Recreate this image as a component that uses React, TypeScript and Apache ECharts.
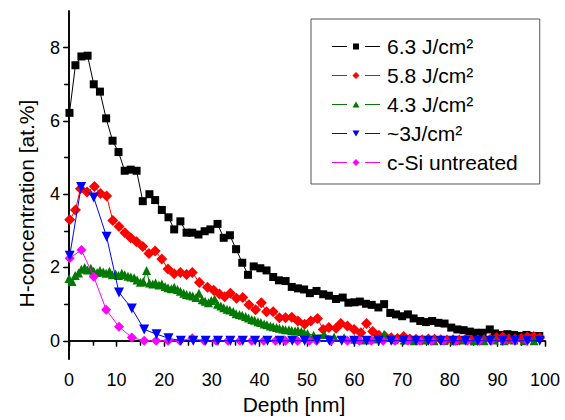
import React, { useEffect, useRef } from "react";
import * as echarts from "echarts";

const FONT = "'Liberation Sans', Arial, Helvetica, sans-serif";

const seriesNames = ["6.3 J/cm²", "5.8 J/cm²", "4.3 J/cm²", "~3J/cm²", "c-Si untreated"];

const xTicks = [0, 10, 20, 30, 40, 50, 60, 70, 80, 90, 100];
const yTicks = [0, 2, 4, 6, 8];

// 6.3 J/cm2
const blackDepth = [0.1, 1.35, 2.6, 3.9, 5.2, 6.5, 7.8, 9.15, 10.4, 11.7, 12.95, 14.2, 15.5, 16.9, 18.1, 19.5, 20.9, 22.1, 23.4, 24.7, 25.9, 27.2, 28.5, 29.7, 31.2, 32.5, 33.8, 35.1, 36.4, 37.6, 38.8, 40.2, 41.5, 42.9, 44.1, 45.5, 46.8, 48.1, 49.4, 50.6, 52.0, 53.4, 54.6, 56.1, 57.5, 58.7, 60.0, 61.1, 62.4, 63.6, 65.0, 66.2, 67.5, 68.7, 70.0, 71.2, 72.4, 73.8, 75.0, 76.3, 77.6, 78.9, 80.3, 81.6, 82.9, 84.2, 85.4, 86.9, 88.4, 89.5, 90.9, 92.1, 93.5, 94.9, 96.1, 97.4, 98.8];
const blackH = [6.22, 7.52, 7.76, 7.78, 7.0, 6.8, 6.07, 5.46, 5.15, 4.64, 4.67, 4.64, 3.81, 4.0, 3.84, 3.57, 3.37, 3.04, 3.26, 2.95, 2.95, 2.9, 2.99, 3.04, 3.19, 2.81, 2.88, 2.5, 2.13, 1.8, 2.03, 1.98, 1.92, 1.74, 1.65, 1.63, 1.47, 1.43, 1.4, 1.3, 1.36, 1.27, 1.23, 1.14, 1.18, 1.04, 1.05, 1.07, 1.01, 0.98, 0.91, 1.0, 0.76, 0.72, 0.67, 0.72, 0.61, 0.54, 0.51, 0.54, 0.49, 0.47, 0.36, 0.31, 0.29, 0.25, 0.22, 0.22, 0.31, 0.2, 0.16, 0.18, 0.16, 0.13, 0.16, 0.13, 0.13];

// 5.8 J/cm2
const redDepth = [0.15, 1.35, 2.4, 3.8, 5.35, 6.6, 7.9, 9.2, 10.5, 11.75, 12.95, 14.2, 15.5, 16.8, 18.1, 19.5, 20.8, 22.1, 23.4, 24.7, 25.9, 27.4, 29.1, 30.4, 31.6, 32.7, 33.9, 35.2, 36.5, 37.8, 39.2, 40.4, 41.5, 42.9, 44.2, 45.5, 46.8, 48.1, 49.5, 50.8, 52.2, 53.4, 54.6, 56.1, 57.1, 58.5, 59.9, 61.3, 62.5, 63.8, 65.1, 66.4, 67.7, 69.0, 70.3, 71.6, 72.9, 74.2, 75.5, 76.8, 78.1, 79.4, 80.7, 82.0, 83.3, 84.6, 85.9, 87.2, 88.5, 89.8, 91.1, 92.4, 93.7, 95.0, 96.3, 97.6, 98.9];
const redH = [3.3, 3.57, 4.15, 4.06, 4.21, 4.02, 3.95, 3.28, 3.12, 2.95, 2.81, 2.7, 2.57, 2.38, 2.45, 2.23, 1.96, 1.83, 1.86, 1.81, 1.86, 1.59, 1.46, 1.38, 1.28, 1.2, 1.3, 1.16, 1.18, 0.98, 0.85, 1.04, 0.79, 0.79, 0.63, 0.63, 0.64, 0.54, 0.45, 0.54, 0.61, 0.31, 0.36, 0.34, 0.47, 0.4, 0.31, 0.22, 0.47, 0.25, 0.15, 0.12, 0.08, 0.06, 0.12, 0.05, 0.04, 0.03, 0.05, 0.04, 0.03, 0.02, 0.03, 0.02, 0.04, 0.02, 0.02, 0.03, 0.04, 0.08, 0.1, 0.05, 0.04, 0.06, 0.1, 0.12, 0.08];

// 4.3 J/cm2
const greenDepth = [0, 0.65, 1.3, 2.0, 2.6, 3.3, 3.9, 4.6, 5.2, 5.9, 6.5, 7.2, 7.8, 8.5, 9.1, 9.8, 10.4, 11.1, 11.7, 12.4, 13.0, 13.7, 14.3, 15.0, 15.6, 16.3, 16.9, 17.6, 18.2, 18.9, 19.5, 20.2, 20.8, 21.5, 22.1, 22.8, 23.4, 24.1, 24.7, 25.4, 26.0, 26.7, 27.3, 28.0, 28.6, 29.3, 29.9, 30.6, 31.2, 31.9, 32.5, 33.2, 33.8, 34.5, 35.1, 35.8, 36.4, 37.1, 37.7, 38.4, 39.0, 39.7, 40.3, 41.0, 41.6, 42.3, 42.9, 43.6, 44.2, 44.9, 45.5, 46.2, 46.8, 47.5, 48.1, 48.8, 49.4, 50.1, 51.4, 53.6, 55.7, 57.8, 60.0, 62.2, 64.2, 66.2, 68.3, 70.4, 72.5, 74.6, 76.7, 78.8, 80.9, 83.0, 85.1, 87.2, 89.3, 91.4, 93.5, 95.6, 97.7];
const greenH = [1.7, 1.62, 1.78, 1.85, 1.95, 2.0, 1.93, 1.98, 1.9, 1.86, 1.92, 1.88, 1.84, 1.9, 1.8, 1.82, 1.78, 1.84, 1.8, 1.76, 1.74, 1.72, 1.66, 1.6, 1.62, 1.92, 1.58, 1.55, 1.58, 1.52, 1.55, 1.48, 1.45, 1.42, 1.46, 1.4, 1.35, 1.3, 1.26, 1.24, 1.22, 1.18, 1.3, 1.12, 1.08, 1.04, 1.1, 1.14, 1.0, 0.95, 0.9, 0.86, 0.84, 0.8, 0.74, 0.72, 0.7, 0.66, 0.62, 0.58, 0.56, 0.52, 0.5, 0.46, 0.44, 0.4, 0.38, 0.36, 0.34, 0.32, 0.3, 0.3, 0.28, 0.27, 0.28, 0.25, 0.22, 0.2, 0.15, 0.17, 0.1, 0.08, 0.04, 0.02, 0.05, 0.18, 0.03, 0.02, 0.0, 0.02, 0.0, 0.01, 0.0, 0.02, 0.0, 0.0, 0.02, 0.0, 0.02, 0.0, 0.0];

// ~3 J/cm2
const blueDepth = [0.15, 2.55, 5.2, 7.9, 10.5, 13.2, 15.8, 18.4, 20.9, 23.5, 26.1, 28.7, 31.3, 33.9, 36.5, 39.1, 41.7, 44.3, 46.9, 49.5, 52.1, 54.7, 57.3, 59.9, 62.5, 65.1, 67.7, 70.3, 72.9, 75.5, 78.1, 80.7, 83.3, 85.9, 88.5, 91.1, 93.7, 96.3, 98.9];
const blueH = [2.32, 4.2, 3.91, 2.84, 1.32, 0.88, 0.31, 0.18, 0.07, 0.0, 0.0, 0.0, 0.0, 0.0, 0.0, 0.0, 0.0, 0.0, 0.0, 0.0, 0.02, 0.0, 0.0, 0.0, 0.0, 0.0, 0.0, 0.01, 0.0, 0.0, 0.0, 0.0, 0.0, 0.0, 0.0, 0.0, 0.0, 0.0, 0.0];

// c-Si untreated
const pinkDepth = [0.15, 2.6, 5.2, 7.8, 10.5, 13.2, 15.8, 18.3, 20.8, 23.3, 25.9, 28.4, 30.9, 33.4, 35.9, 38.4, 40.9, 43.4, 45.5, 48.0, 50.5, 52.0, 55.0, 58.5, 61.0, 63.5, 66.0, 68.5, 71.2, 73.7, 76.2, 78.7, 81.2, 83.7, 86.2, 88.7, 91.2, 93.7, 96.2];
const pinkH = [2.25, 2.48, 1.75, 0.85, 0.38, 0.09, 0.0, 0.0, 0.0, 0.0, 0.07, 0.0, 0.0, 0.0, 0.0, 0.0, 0.0, 0.0, 0.0, 0.0, 0.0, 0.0, 0.0, 0.0, 0.0, 0.0, 0.0, 0.0, 0.0, 0.0, 0.0, 0.0, 0.0, 0.0, 0.0, 0.0, 0.0, 0.0, 0.0];

const zip = (xs: number[], ys: number[]) => xs.map((x, i) => [x, ys[i]]);

// legend icons: line – gap – marker – gap – line (50 x 8 box, last 2 units empty)
const LINES = "M0,3.5L15,3.5L15,4.5L0,4.5Z M33,3.5L48,3.5L48,4.5L33,4.5Z";
const BOUNDS = " M0,0L0.01,0Z M0,8L0.01,8Z M50,0L50.01,0Z M50,8L50.01,8Z";
const ICON_SQUARE = "path://" + LINES + " M21,1L27,1L27,7L21,7Z" + BOUNDS;
const ICON_DIAMOND = "path://" + LINES + " M24,0.5L27.5,4L24,7.5L20.5,4Z" + BOUNDS;
const ICON_TRI_UP = "path://" + LINES + " M24,1L27.5,7L20.5,7Z" + BOUNDS;
const ICON_TRI_DOWN = "path://" + LINES + " M20.5,1L27.5,1L24,7Z" + BOUNDS;

export default function App() {
  const ref = useRef<HTMLDivElement>(null);
  useEffect(() => {
    if (!ref.current) return;
    const chart = echarts.init(ref.current, undefined, { renderer: "svg" });
    const axisLine = { show: true, lineStyle: { color: "#000", width: 1.6 } };
    const series: any[] = [
      { name: seriesNames[0], data: zip(blackDepth, blackH), color: "#000000", symbol: "rect", symbolSize: 8, z: 2 },
      { name: seriesNames[1], data: zip(redDepth, redH), color: "#ff0000", symbol: "diamond", symbolSize: 11, z: 3 },
      { name: seriesNames[2], data: zip(greenDepth, greenH), color: "#007a00", symbol: "triangle", symbolSize: 9, z: 4 },
      { name: seriesNames[4], data: zip(pinkDepth, pinkH), color: "#ff00ff", symbol: "diamond", symbolSize: 10, z: 5 },
      { name: seriesNames[3], data: zip(blueDepth, blueH), color: "#0000ff", symbol: "triangle", symbolRotate: 180, symbolSize: 10, z: 6 },
    ].map((s) => ({
      type: "line",
      showSymbol: true,
      lineStyle: { width: 1, color: s.color },
      itemStyle: { color: s.color },
      emphasis: { disabled: true },
      ...s,
    }));
    const icons = [ICON_SQUARE, ICON_DIAMOND, ICON_TRI_UP, ICON_TRI_DOWN, ICON_DIAMOND];
    chart.setOption({
      animation: false,
      grid: { left: 69, right: 20, top: 11, bottom: 55, containLabel: false },
      legend: {
        data: seriesNames.map((n, i) => ({ name: n, icon: icons[i] })),
        orient: "vertical",
        left: 311,
        top: 19,
        padding: [17, 22, 11, 21],
        itemGap: 8,
        itemWidth: 50,
        itemHeight: 8,
        symbolKeepAspect: false,
        borderColor: "#555",
        borderWidth: 1,
        backgroundColor: "#fff",
        selectedMode: false,
        textStyle: { fontSize: 21, fontFamily: FONT, color: "#000" },
      },
      xAxis: [
        {
          type: "value",
          min: 0,
          max: 100,
          interval: 10,
          name: "Depth [nm]",
          nameLocation: "middle",
          nameGap: 30,
          nameTextStyle: { fontSize: 21, fontFamily: FONT, color: "#000", padding: [0, 26, 0, 0] },
          axisLine,
          axisTick: { show: true, inside: false, length: 6, lineStyle: { color: "#000", width: 1.3 } },
          minorTick: { show: true, splitNumber: 2, length: 4, lineStyle: { color: "#000", width: 1.3 } },
          axisLabel: { fontSize: 18, fontFamily: FONT, color: "#000", margin: 12, customValues: xTicks },
          splitLine: { show: false },
        },
        {
          type: "value",
          position: "top",
          min: 0,
          max: 100,
          interval: 10,
          axisLine,
          axisTick: { show: true, inside: true, length: 5, lineStyle: { color: "#000", width: 1.3 } },
          minorTick: { show: true, splitNumber: 2, length: 5, lineStyle: { color: "#000", width: 1.3 } },
          axisLabel: { show: false },
          splitLine: { show: false },
        },
      ],
      yAxis: [
        {
          type: "value",
          min: -0.5,
          max: 9,
          name: "H-concentration [at.%]",
          nameLocation: "middle",
          nameGap: 32,
          nameTextStyle: { fontSize: 21, fontFamily: FONT, color: "#000", padding: [0, 37, 0, 0] },
          axisLine,
          axisTick: { show: true, inside: false, length: 6, customValues: yTicks, lineStyle: { color: "#000", width: 1.3 } },
          minorTick: { show: true, splitNumber: 2, length: 4, lineStyle: { color: "#000", width: 1.3 } },
          axisLabel: { fontSize: 18, fontFamily: FONT, color: "#000", margin: 9, customValues: yTicks },
          splitLine: { show: false },
        },
        {
          type: "value",
          position: "right",
          min: -0.5,
          max: 9,
          axisLine,
          axisTick: { show: true, inside: true, length: 5, customValues: yTicks, lineStyle: { color: "#000", width: 1.3 } },
          minorTick: { show: true, splitNumber: 2, length: 5, lineStyle: { color: "#000", width: 1.3 } },
          axisLabel: { show: false },
          splitLine: { show: false },
        },
      ],
      series,
    });
    return () => chart.dispose();
  }, []);
  return (
    <div
      ref={ref}
      style={{ position: "absolute", left: 0, top: 0, width: 565, height: 420, background: "#fff" }}
    />
  );
}
